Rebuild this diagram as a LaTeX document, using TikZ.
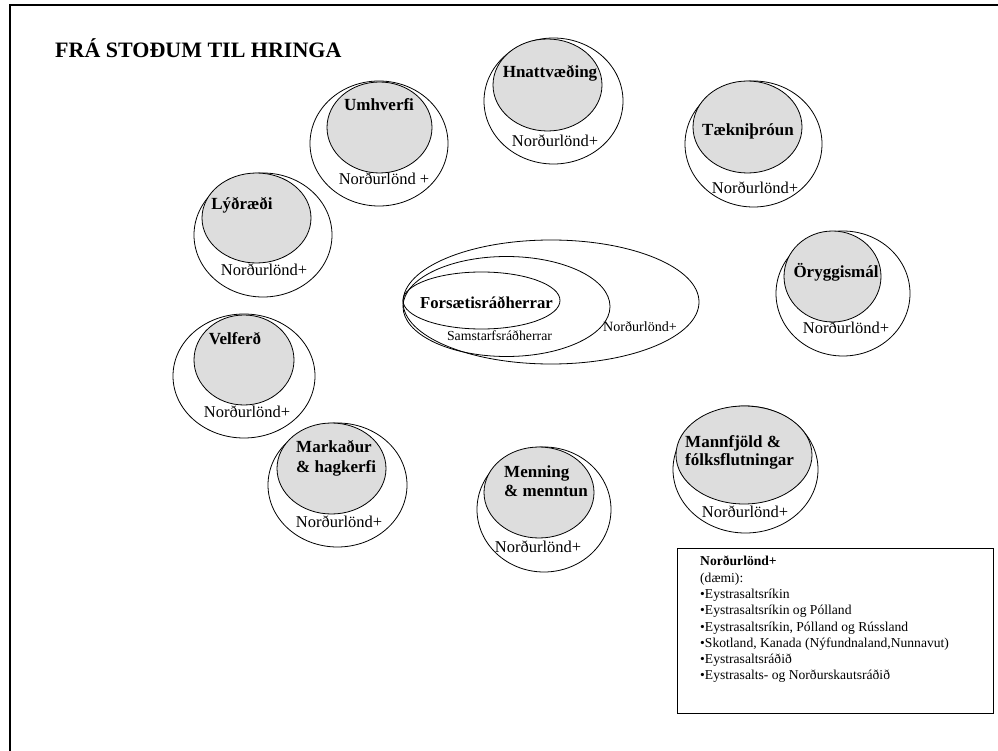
\documentclass[tikz,border=0pt]{standalone}
\usepackage{fontspec}
\setmainfont{Liberation Serif}
\usepackage{xcolor}
\usetikzlibrary{shapes.geometric,positioning}

\definecolor{coregrey}{RGB}{221,221,221}

\tikzset{
  ring/.style={ellipse, draw, line width=0.8pt, inner sep=0pt},
  core/.style={ring, fill=coregrey},
  topic/.style={font=\fontsize{17}{19}\selectfont\bfseries, anchor=base, inner sep=0pt},
  topicl/.style={topic, anchor=base west},
  plus/.style={font=\fontsize{16.5}{18}\selectfont, anchor=base, inner sep=0pt}
}

\begin{document}
\begin{tikzpicture}[x=1pt,y=-1pt]
\useasboundingbox (0,0) rectangle (998,751);
\draw[line width=1.5pt] (10,5) rectangle (1010,765);

\node[font=\fontsize{22}{24}\selectfont\bfseries, anchor=base west, inner sep=0pt] (title) at (55,58) {FRÁ STOÐUM TIL HRINGA};

% midjan
\node[ring, minimum width=296pt, minimum height=124pt] (nplus) at (551,302) {};
\node[ring, minimum width=207pt, minimum height=100pt] (samst) at (506.5,306.5) {};
\node[ring, minimum width=157pt, minimum height=57pt]  (forsr) at (481.5,300.5) {};
\node[font=\fontsize{16.7}{18}\selectfont\bfseries, anchor=base, inner sep=0pt] (forsrT) at (486.5,308) {Forsætisráðherrar};
\node[font=\fontsize{13.8}{15}\selectfont, anchor=base, inner sep=0pt] (samstT) at (499.5,340) {Samstarfsráðherrar};
\node[font=\fontsize{14.1}{15}\selectfont, anchor=base, inner sep=0pt] (nplusT) at (640,331) {Norðurlönd+};

% hringir
\node[ring, minimum width=139pt, minimum height=126pt] (hnattO) at (553.5,101) {};
\node[core, minimum width=109pt, minimum height=92pt]  (hnatt)  at (547.5,85) {};
\node[topic] (hnattT) at (550,78) {Hnattvæðing};
\node[plus]  (hnattP) at (555,147) {Norðurlönd+};

\node[ring, minimum width=137pt, minimum height=126pt] (taekniO) at (753.5,144) {};
\node[core, minimum width=109pt, minimum height=92pt]  (taekni)  at (747.5,127) {};
\node[topic] (taekniT) at (748,136) {Tækniþróun};
\node[plus]  (taekniP) at (755,194) {Norðurlönd+};

\node[ring, minimum width=138pt, minimum height=125pt] (umhvO) at (379,143.5) {};
\node[core, minimum width=105pt, minimum height=91pt]  (umhv)  at (379.5,127.5) {};
\node[topic] (umhvT) at (379,111) {Umhverfi};
\node[plus]  (umhvP) at (384,185) {Norðurlönd +};

\node[ring, minimum width=138pt, minimum height=124pt] (lydO) at (263,235) {};
\node[core, minimum width=109pt, minimum height=90pt]  (lyd)  at (256.5,218) {};
\node[topic] (lydT) at (242,210) {Lýðræði};
\node[plus]  (lydP) at (264,276) {Norðurlönd+};

\node[ring, minimum width=142pt, minimum height=124pt] (velfO) at (244,376) {};
\node[core, minimum width=100pt, minimum height=90pt]  (velf)  at (244,360) {};
\node[topic] (velfT) at (235,344) {Velferð};
\node[plus]  (velfP) at (247,417) {Norðurlönd+};

\node[ring, minimum width=139pt, minimum height=124pt] (markO) at (337.5,485) {};
\node[core, minimum width=109pt, minimum height=91pt]  (mark)  at (331.5,468.5) {};
\node[topicl] (markT)  at (296,452) {Markaður};
\node[topicl] (markT2) at (296,472) {\& hagkerfi};
\node[plus]  (markP) at (339,527) {Norðurlönd+};

\node[ring, minimum width=134pt, minimum height=125pt] (mennO) at (544,509.5) {};
\node[core, minimum width=110pt, minimum height=91pt]  (menn)  at (539,492.5) {};
\node[topicl] (mennT)  at (504,477) {Menning};
\node[topicl] (mennT2) at (504,496) {\& menntun};
\node[plus]  (mennP) at (538,552) {Norðurlönd+};

\node[ring, minimum width=145pt, minimum height=127pt] (mannO) at (745.5,469.5) {};
\node[core, minimum width=136pt, minimum height=98pt]  (mann)  at (744,455) {};
\node[topicl] (mannT)  at (685,447) {Mannfjöld \&};
\node[topicl] (mannT2) at (685,465) {fólksflutningar};
\node[plus]  (mannP) at (745,517) {Norðurlönd+};

\node[ring, minimum width=134pt, minimum height=125pt] (oryggO) at (843,293.5) {};
\node[core, minimum width=97pt, minimum height=91pt]   (orygg)  at (832.5,276.5) {};
\node[topic] (oryggT) at (836,277) {Öryggismál};
\node[plus]  (oryggP) at (846,333) {Norðurlönd+};

% skyring
\node[draw, line width=0.8pt, minimum width=316pt, minimum height=165pt, inner sep=0pt] (legend) at (835,630.5) {};
\node[font=\fontsize{13.6}{16.3}\selectfont, align=left, anchor=north west, inner sep=0pt] (legendT) at (700,556)
  {\textbf{Norðurlönd+}\\
   (dæmi):\\
   \textbullet Eystrasaltsríkin\\
   \textbullet Eystrasaltsríkin og Pólland\\
   \textbullet Eystrasaltsríkin, Pólland og Rússland\\
   \textbullet Skotland, Kanada (Nýfundnaland,Nunnavut)\\
   \textbullet Eystrasaltsráðið\\
   \textbullet Eystrasalts- og Norðurskautsráðið};
\end{tikzpicture}
\end{document}
